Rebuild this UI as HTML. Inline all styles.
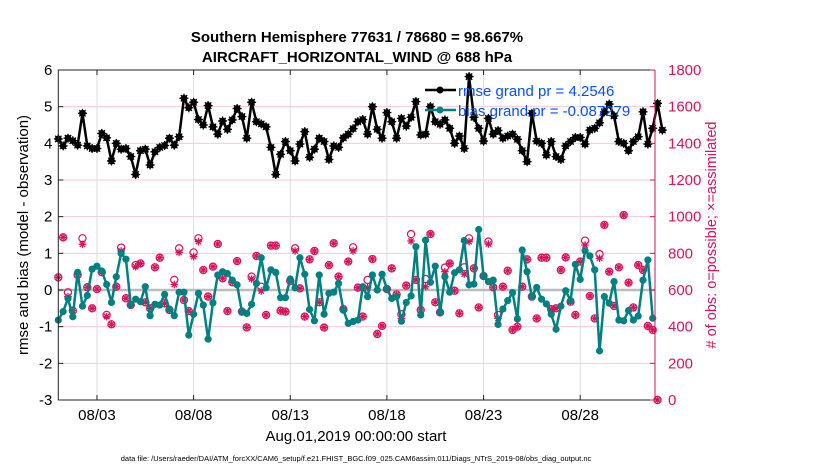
<!DOCTYPE html>
<html><head><meta charset="utf-8"><style>
body{margin:0;background:#fff;}
svg{display:block;font-family:"Liberation Sans",sans-serif;}
</style></head><body>
<svg id="chart" width="830" height="470" viewBox="0 0 830 470" xmlns="http://www.w3.org/2000/svg">
<text x="357" y="42" text-anchor="middle" font-size="15" font-weight="bold">Southern Hemisphere 77631 / 78680 = 98.667%</text>
<text x="357" y="62" text-anchor="middle" font-size="15" font-weight="bold">AIRCRAFT_HORIZONTAL_WIND @ 688 hPa</text>
<g id="grid"></g>
<g id="marks"></g>
<g id="axes"></g>
<text transform="translate(28,235) rotate(-90)" text-anchor="middle" font-size="15">rmse and bias (model - observation)</text>
<text transform="translate(716,235) rotate(-90)" text-anchor="middle" font-size="14.5" fill="#d6135c"># of obs: o=possible; ×=assimilated</text>
<text x="356" y="441" text-anchor="middle" font-size="15">Aug.01,2019 00:00:00 start</text>
<text x="356" y="461" text-anchor="middle" font-size="7.5">data file: /Users/raeder/DAI/ATM_forcXX/CAM6_setup/f.e21.FHIST_BGC.f09_025.CAM6assim.011/Diags_NTrS_2019-08/obs_diag_output.nc</text>
<g>
<line x1="425" y1="90" x2="456" y2="90" stroke="#000" stroke-width="2.5"/>
<circle cx="440" cy="90" r="3.5" fill="#000"/>
<text x="458" y="96" font-size="15" fill="#0a4dff">rmse grand pr = 4.2546</text>
<line x1="425" y1="110" x2="456" y2="110" stroke="#008080" stroke-width="2.5"/>
<circle cx="440" cy="110" r="3.5" fill="#008080"/>
<text x="458" y="116" font-size="15" fill="#0a4dff">bias grand pr = -0.087279</text>
</g>
</svg>
<script>
const rmse=[4.12,3.93,4.14,4.07,3.95,4.82,3.93,3.86,3.86,4.27,4.15,3.52,4.0,3.84,3.86,3.64,3.15,3.80,3.84,3.41,3.77,3.89,3.94,4.14,3.95,4.18,5.23,4.97,5.12,4.65,4.5,5.03,4.45,4.25,4.61,4.38,4.64,4.95,4.73,4.14,5.12,4.59,4.53,4.45,3.89,3.15,3.7,4.05,3.8,3.52,3.98,4.32,3.62,3.84,4.14,4.05,3.56,3.93,3.89,4.15,4.25,4.4,4.59,4.65,4.25,5.0,4.38,4.14,4.84,4.59,4.14,4.68,4.47,4.71,5.14,4.23,4.25,5.0,4.59,4.52,4.64,4.41,4.0,4.2,3.86,5.82,4.71,4.41,4.06,4.68,4.25,4.35,4.14,4.2,4.25,4.11,3.8,3.5,4.82,4.06,4.0,3.68,4.05,3.64,3.56,3.93,4.05,4.16,4.16,3.98,4.36,4.41,4.56,4.86,5.07,4.75,4.05,4.0,3.8,4.05,4.18,4.86,3.98,4.41,5.09,4.36];
const bias=[-0.82,-0.59,-0.23,-0.73,0.48,-0.44,-0.15,0.57,0.65,0.52,0.15,-0.34,0.36,1.0,0.84,-0.41,-0.25,-0.32,0.09,-0.7,-0.39,-0.41,-0.12,-0.52,-0.7,-0.06,-0.06,-1.23,-0.66,-0.09,-0.41,-1.34,-0.35,0.41,0.5,0.45,0.27,0.14,-0.59,-0.64,-0.39,0.18,0.88,0.06,0.55,0.48,-0.21,-0.21,0.3,0.06,0.88,0.43,-0.53,-0.84,0.41,-0.66,-0.09,-0.06,0.18,-0.55,-0.91,-0.86,-0.82,0.09,-0.18,0.41,0,0.43,0.03,-0.23,-0.18,-0.85,-0.34,-0.16,1.18,-0.68,1.36,0.21,0.65,-0.61,0.36,-0.06,0.47,0.55,1.35,0.14,0.16,1.65,0.38,0.23,0.27,-0.94,-0.52,-0.29,-0.07,-0.79,1.09,0.5,-0.18,0.07,-0.25,-0.38,-0.66,-1.07,-0.44,-0.02,-0.29,0.7,0.29,1.07,0.93,0.55,-1.66,-0.18,-0.36,0.23,-0.82,-0.84,-0.56,-0.82,-0.71,0.27,0.82,-0.77];
const obsPossible=[669,887,587,487,682,882,615,500,605,697,464,413,618,831,555,518,736,745,533,500,724,776,527,491,655,827,545,485,805,882,709,564,727,851,664,485,642,758,482,396,673,786,618,464,842,842,487,482,649,827,609,455,767,813,533,395,736,855,673,495,755,833,613,455,655,769,360,404,605,718,576,468,624,905,655,491,660,905,533,478,722,745,596,473,724,882,718,505,676,864,615,464,618,705,382,400,618,767,564,445,776,776,495,500,709,778,536,464,755,869,567,445,796,955,700,513,724,1009,640,505,736,709,404,382,0];
const obsAssim=[669,887,564,487,682,849,615,500,605,697,455,413,618,813,555,518,727,745,533,500,724,776,527,491,630,805,545,485,782,864,709,564,727,851,664,485,642,758,482,396,660,786,595,464,842,842,487,482,649,813,609,455,767,813,533,395,736,855,673,495,755,813,613,455,613,769,360,404,605,718,576,445,624,867,655,491,618,905,533,478,700,745,596,473,687,864,718,505,676,851,615,445,618,705,382,400,618,767,564,445,776,776,495,500,709,778,536,464,755,845,567,445,773,955,700,513,724,1009,640,505,736,709,404,382,0];
const yTicksLeft=[-3,-2,-1,0,1,2,3,4,5,6];
const yTicksRight=[0,200,400,600,800,1000,1200,1400,1600,1800];
const xTickDays=[2,7,12,17,22,27];
const xTickLabels=["08/03","08/08","08/13","08/18","08/23","08/28"];
const stepDays=0.25;

const NS="http://www.w3.org/2000/svg";
const L=58.3,R=655,T=70,B=400;
const xDay=d=>L+d*19.33;
const xIdx=i=>xDay(i*stepDays);
const yL=v=>B-(v+3)/9*(B-T);
const yR=v=>B-v/1800*(B-T);
function mk(tag,attrs,parent){const e=document.createElementNS(NS,tag);for(const k in attrs)e.setAttribute(k,attrs[k]);parent.appendChild(e);return e;}
const grid=document.getElementById('grid'),marks=document.getElementById('marks'),axes=document.getElementById('axes');

yTicksLeft.forEach(v=>{if(v>-3&&v<6){const g=mk('line',{x1:L,x2:R,y1:yL(v),y2:yL(v),stroke:'#f6c8d8','stroke-width':1},grid);

}});
xTickDays.forEach(d=>{const g=mk('line',{x1:xDay(d),x2:xDay(d),y1:T,y2:B,stroke:'#dcdcdc','stroke-width':1},grid);

});
const zl=mk('line',{x1:L,x2:R,y1:yL(0),y2:yL(0),stroke:'#bbb','stroke-width':2.5},grid);



function star(cx,cy,r,color,parent){
  const g=mk('g',{stroke:color,'stroke-width':1.3},parent);
  for(let a=0;a<4;a++){const t=a*Math.PI/4;mk('line',{x1:cx-r*Math.cos(t),y1:cy-r*Math.sin(t),x2:cx+r*Math.cos(t),y2:cy+r*Math.sin(t)},g);}
  return g;
}
const obsCol='#d6135c';
obsPossible.forEach((v,i)=>{
  const c=mk('circle',{cx:xIdx(i),cy:yR(v),r:3.6,fill:'none',stroke:obsCol,'stroke-width':1.2},marks);
  
  
});
obsAssim.forEach((v,i)=>{
  const s=star(xIdx(i),yR(v),3.8,obsCol,marks);
  
  
});
function series(arr,color,name,starMark){
  const p=mk('polyline',{points:arr.map((v,i)=>xIdx(i)+','+yL(v)).join(' '),fill:'none',stroke:color,'stroke-width':2.5,'stroke-linejoin':'round'},marks);
  
  
  arr.forEach((v,i)=>{
    const c=mk('circle',{cx:xIdx(i),cy:yL(v),r:starMark?3.4:3.6,fill:color},marks);
    
    
    if(starMark)star(xIdx(i),yL(v),4.5,color,marks);
  });
}
series(bias,'#008080','bias',false);
series(rmse,'#000','rmse',true);

const fr=mk('path',{d:`M${L},${B} L${L},${T} L${R},${T}`,fill:'none',stroke:'#222','stroke-width':1},axes);


const bx=mk('line',{x1:L,x2:R,y1:B,y2:B,stroke:'#222','stroke-width':1},axes);


const ra=mk('line',{x1:R,x2:R,y1:T,y2:B,stroke:obsCol,'stroke-width':1},axes);


yTicksLeft.forEach(v=>{
  mk('line',{x1:L,x2:L+5,y1:yL(v),y2:yL(v),stroke:'#222'},axes);
  const t=mk('text',{x:L-6,y:yL(v)+5,'text-anchor':'end','font-size':15},axes);t.textContent=v;
  
  
});
yTicksRight.forEach(v=>{
  mk('line',{x1:R-5,x2:R,y1:yR(v),y2:yR(v),stroke:obsCol},axes);
  const t=mk('text',{x:R+13,y:yR(v)+5,'font-size':15,fill:obsCol},axes);t.textContent=v;
  
  
});
xTickDays.forEach((d,k)=>{
  mk('line',{x1:xDay(d),x2:xDay(d),y1:B,y2:B-5,stroke:'#222'},axes);
  mk('line',{x1:xDay(d),x2:xDay(d),y1:T,y2:T+5,stroke:'#222'},axes);
  const t=mk('text',{x:xDay(d),y:B+20,'text-anchor':'middle','font-size':15},axes);t.textContent=xTickLabels[k];
  
  
});
</script>
</body></html>
